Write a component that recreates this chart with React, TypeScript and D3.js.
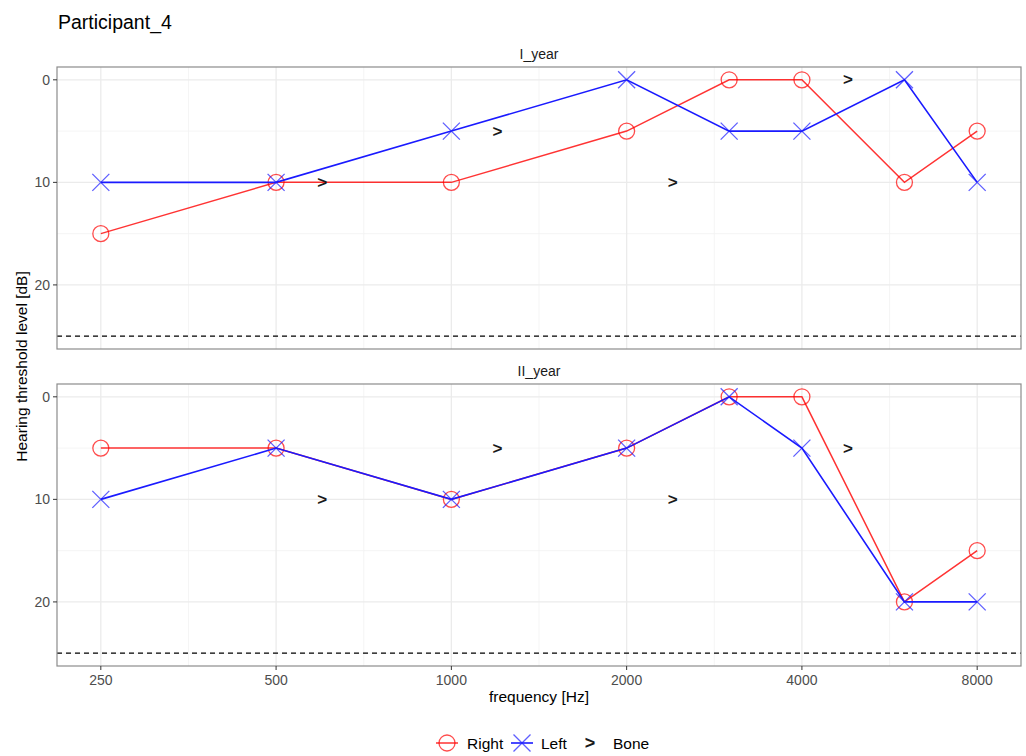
import React from "react";
import * as d3 from "d3";

// Audiogram thresholds per visit
const freqs = [250, 500, 1000, 2000, 3000, 4000, 6000, 8000];
const boneFreqs = [600, 1200, 2400, 4800];

const year1Right = [15, 10, 10, 5, 0, 0, 10, 5];
const year1Left = [10, 10, 5, 0, 5, 5, 0, 10];
const year1Bone = [10, 5, 10, 0];

const year2Right = [5, 5, 10, 5, 0, 0, 20, 15];
const year2Left = [10, 5, 10, 5, 0, 5, 20, 20];
const year2Bone = [10, 5, 10, 5];

const panelNames = ["I_year", "II_year"];
const xTicks = [250, 500, 1000, 2000, 4000, 8000];
const yTicks = [0, 10, 20];
const yMinor = [5, 15, 25];
const limitDb = 25;

const panels = [
  { name: panelNames[0], right: year1Right, left: year1Left, bone: year1Bone },
  { name: panelNames[1], right: year2Right, left: year2Left, bone: year2Bone },
];

const W = 1026;
const H = 756;
const PL = 57;
const PR = 1021;
const panelTops = [67, 384];
const panelH = 282;
const FONT = "Liberation Sans, Arial, Helvetica, sans-serif";
const RED = "#ff0000";
const BLUE = "#1a1aff";

const x = d3
  .scaleLog()
  .base(2)
  .domain([250 * Math.pow(2, -0.25), 8000 * Math.pow(2, 0.25)])
  .range([PL, PR]);

const xMinor = xTicks.slice(0, -1).map((t) => t * Math.SQRT2);

function Cross({ cx, cy, r }: { cx: number; cy: number; r: number }) {
  return (
    <path
      d={`M${cx - r},${cy - r}L${cx + r},${cy + r}M${cx - r},${cy + r}L${cx + r},${cy - r}`}
      stroke={BLUE}
      strokeOpacity={0.7}
      strokeWidth={1.3}
      fill="none"
    />
  );
}

function Panel({ top, p }: { top: number; p: (typeof panels)[number] }) {
  const y = d3.scaleLinear().domain([-1.25, 26.25]).range([top, top + panelH]);
  const line = d3
    .line<[number, number]>()
    .x((d) => x(d[0]))
    .y((d) => y(d[1]));
  const rightPts = freqs.map((f, i) => [f, p.right[i]] as [number, number]);
  const leftPts = freqs.map((f, i) => [f, p.left[i]] as [number, number]);
  return (
    <g>
      <rect x={PL} y={top} width={PR - PL} height={panelH} fill="#fff" />
      {/* minor grid */}
      {yMinor.map((v) => (
        <line key={"ym" + v} x1={PL} x2={PR} y1={y(v)} y2={y(v)} stroke="#f2f2f2" strokeWidth={0.8} />
      ))}
      {xMinor.map((v) => (
        <line key={"xm" + v} x1={x(v)} x2={x(v)} y1={top} y2={top + panelH} stroke="#f2f2f2" strokeWidth={0.8} />
      ))}
      {/* major grid */}
      {yTicks.map((v) => (
        <line key={"yM" + v} x1={PL} x2={PR} y1={y(v)} y2={y(v)} stroke="#ebebeb" strokeWidth={1.3} />
      ))}
      {xTicks.map((v) => (
        <line key={"xM" + v} x1={x(v)} x2={x(v)} y1={top} y2={top + panelH} stroke="#ebebeb" strokeWidth={1.3} />
      ))}
      {/* hearing limit */}
      <line
        x1={PL}
        x2={PR}
        y1={y(limitDb)}
        y2={y(limitDb)}
        stroke="#000"
        strokeWidth={1.2}
        strokeDasharray="5,4"
      />
      {/* series */}
      <path d={line(rightPts) || ""} stroke={RED} strokeOpacity={0.8} strokeWidth={1.5} fill="none" />
      {rightPts.map((d, i) => (
        <circle key={"r" + i} cx={x(d[0])} cy={y(d[1])} r={8} fill="none" stroke={RED} strokeOpacity={0.7} strokeWidth={1.3} />
      ))}
      <path d={line(leftPts) || ""} stroke={BLUE} strokeWidth={1.6} fill="none" />
      {leftPts.map((d, i) => (
        <Cross key={"l" + i} cx={x(d[0])} cy={y(d[1])} r={8.5} />
      ))}
      {boneFreqs.map((f, i) => (
        <text
          key={"b" + i}
          x={x(f)}
          y={y(p.bone[i])}
          textAnchor="middle"
          dominantBaseline="central"
          fontFamily={FONT}
          fontSize={17}
          fontWeight="bold"
          fill="#1a1a1a"
        >
          {">"}
        </text>
      ))}
      {/* border */}
      <rect x={PL} y={top} width={PR - PL} height={panelH} fill="none" stroke="#8c8c8c" strokeWidth={1.2} />
      {/* strip label */}
      <text x={(PL + PR) / 2} y={top - 8} textAnchor="middle" fontFamily={FONT} fontSize={14} fill="#1a1a1a">
        {p.name}
      </text>
      {/* y axis */}
      {yTicks.map((v) => (
        <g key={"yt" + v}>
          <line x1={PL - 4} x2={PL} y1={y(v)} y2={y(v)} stroke="#333" strokeWidth={1} />
          <text
            x={PL - 7}
            y={y(v)}
            textAnchor="end"
            dominantBaseline="central"
            fontFamily={FONT}
            fontSize={14}
            fill="#4d4d4d"
          >
            {v}
          </text>
        </g>
      ))}
    </g>
  );
}

export default function App() {
  const bottom = panelTops[1] + panelH;
  const lg = 743;
  return (
    <svg width={W} height={H} style={{ display: "block", position: "absolute", left: 0, top: 0 }}>
      <rect width={W} height={H} fill="#fff" />
      <text x={58} y={29} fontFamily={FONT} fontSize={19.5} fill="#000">
        Participant_4
      </text>
      {panels.map((p, i) => (
        <Panel key={p.name} top={panelTops[i]} p={p} />
      ))}
      {/* x axis */}
      {xTicks.map((v) => (
        <g key={"xt" + v}>
          <line x1={x(v)} x2={x(v)} y1={bottom} y2={bottom + 4} stroke="#333" strokeWidth={1} />
          <text x={x(v)} y={bottom + 19} textAnchor="middle" fontFamily={FONT} fontSize={14} fill="#4d4d4d">
            {v}
          </text>
        </g>
      ))}
      <text x={(PL + PR) / 2} y={bottom + 36} textAnchor="middle" fontFamily={FONT} fontSize={15.5} fill="#000">
        frequency [Hz]
      </text>
      <text
        transform={`translate(27,${(panelTops[0] + bottom) / 2}) rotate(-90)`}
        textAnchor="middle"
        fontFamily={FONT}
        fontSize={15.5}
        fill="#000"
      >
        Hearing threshold level [dB]
      </text>
      {/* legend */}
      <g>
        <line x1={436} x2={458} y1={lg} y2={lg} stroke={RED} strokeOpacity={0.8} strokeWidth={1.5} />
        <circle cx={447} cy={lg} r={8} fill="none" stroke={RED} strokeOpacity={0.7} strokeWidth={1.3} />
        <text x={467} y={lg} dominantBaseline="central" fontFamily={FONT} fontSize={15.5} fill="#000">
          Right
        </text>
        <line x1={511} x2={533} y1={lg} y2={lg} stroke={BLUE} strokeWidth={1.6} />
        <Cross cx={522} cy={lg} r={8.5} />
        <text x={541} y={lg} dominantBaseline="central" fontFamily={FONT} fontSize={15.5} fill="#000">
          Left
        </text>
        <text
          x={590}
          y={lg}
          textAnchor="middle"
          dominantBaseline="central"
          fontFamily={FONT}
          fontSize={18}
          fontWeight="bold"
          fill="#1a1a1a"
        >
          {">"}
        </text>
        <text x={613} y={lg} dominantBaseline="central" fontFamily={FONT} fontSize={15.5} fill="#000">
          Bone
        </text>
      </g>
    </svg>
  );
}
